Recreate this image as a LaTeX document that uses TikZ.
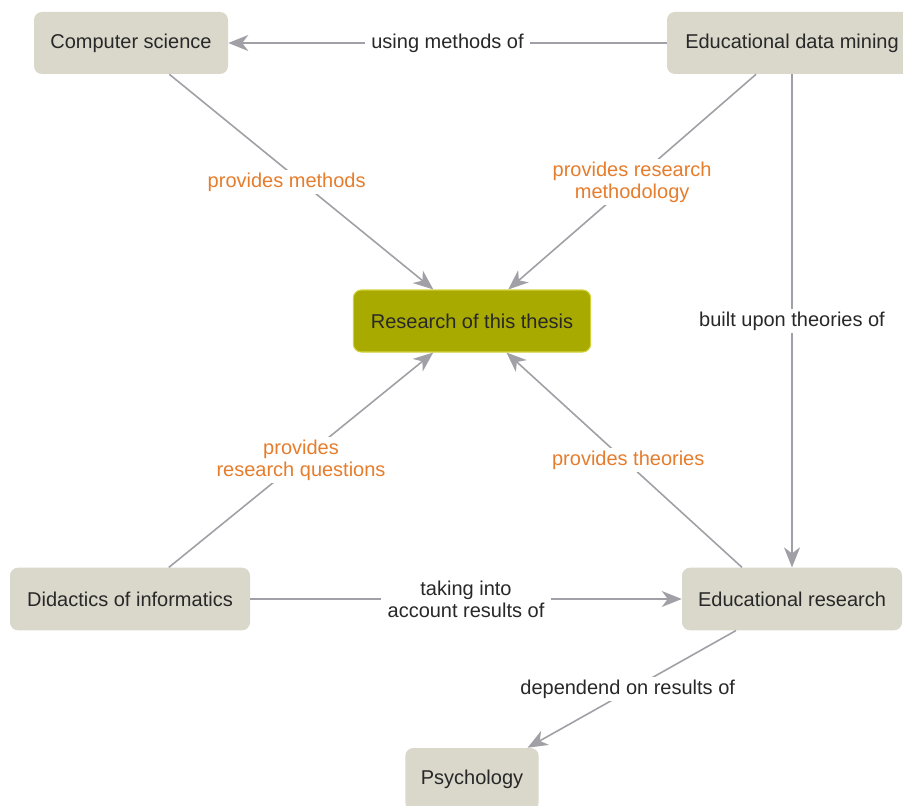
\documentclass[tikz,border=0pt]{standalone}
\usepackage{fontspec}
\setmainfont{Liberation Sans}
\usetikzlibrary{arrows.meta,calc}
\definecolor{boxfill}{RGB}{218,215,203}
\definecolor{olivefill}{RGB}{168,170,0}
\definecolor{oliveborder}{RGB}{210,210,60}
\definecolor{edgegrey}{RGB}{160,160,166}
\definecolor{lblorange}{RGB}{230,125,45}
\definecolor{txtdark}{RGB}{40,40,40}
\begin{document}
\begin{tikzpicture}[x=0.75pt,y=-0.75pt,
  box/.style={rectangle,rounded corners=6pt,fill=boxfill,text=txtdark,
    font=\fontsize{15}{18}\selectfont,inner sep=0pt,minimum height=46.5pt},
  thesis/.style={box,fill=olivefill,draw=oliveborder,line width=0.8pt},
  conn/.style={draw=edgegrey,line width=1.2pt,
    -{Stealth[length=15pt,width=12pt,inset=4.5pt,fill=edgegrey]}},
  lbl/.style={fill=white,inner xsep=5pt,inner ysep=2pt,align=center,text=txtdark,
    font=\fontsize{15}{16.5}\selectfont},
  olbl/.style={lbl,text=lblorange}]
\useasboundingbox (0,0) rectangle (903,806);

\node[box,minimum width=145.5pt] (cs) at (131,43) {Computer science};
\node[box,minimum width=187.5pt] (edm) at (792,43) {Educational data mining};
\node[thesis,minimum width=178pt] (res) at (472,321) {Research of this thesis};
\node[box,minimum width=180pt,minimum height=47pt] (did) at (130,599) {Didactics of informatics};
\node[box,minimum width=165pt,minimum height=47pt] (er) at (792,599) {Educational research};
\node[box,minimum width=100pt] (psy) at (472,779) {Psychology};

\draw[conn] (edm) -- node[lbl] {using methods of} (cs);
\draw[conn] (cs) -- node[olbl,pos=0.5,xshift=-11pt] {provides methods} (res);
\draw[conn] (edm) -- node[olbl] {provides research\\methodology} (res);
\draw[conn] (edm) -- node[lbl] {built upon theories of} (er);
\draw[conn] (did) -- node[olbl] {provides\\research questions} (res);
\draw[conn] ($(er.north)+(-50,0)$) -- node[olbl,xshift=3pt] {provides theories} (res);
\draw[conn] (did) -- node[lbl] {taking into\\account results of} (er);
\draw[conn] (er) -- node[lbl,xshift=-3pt] {dependend on results of} (psy);
\end{tikzpicture}
\end{document}
